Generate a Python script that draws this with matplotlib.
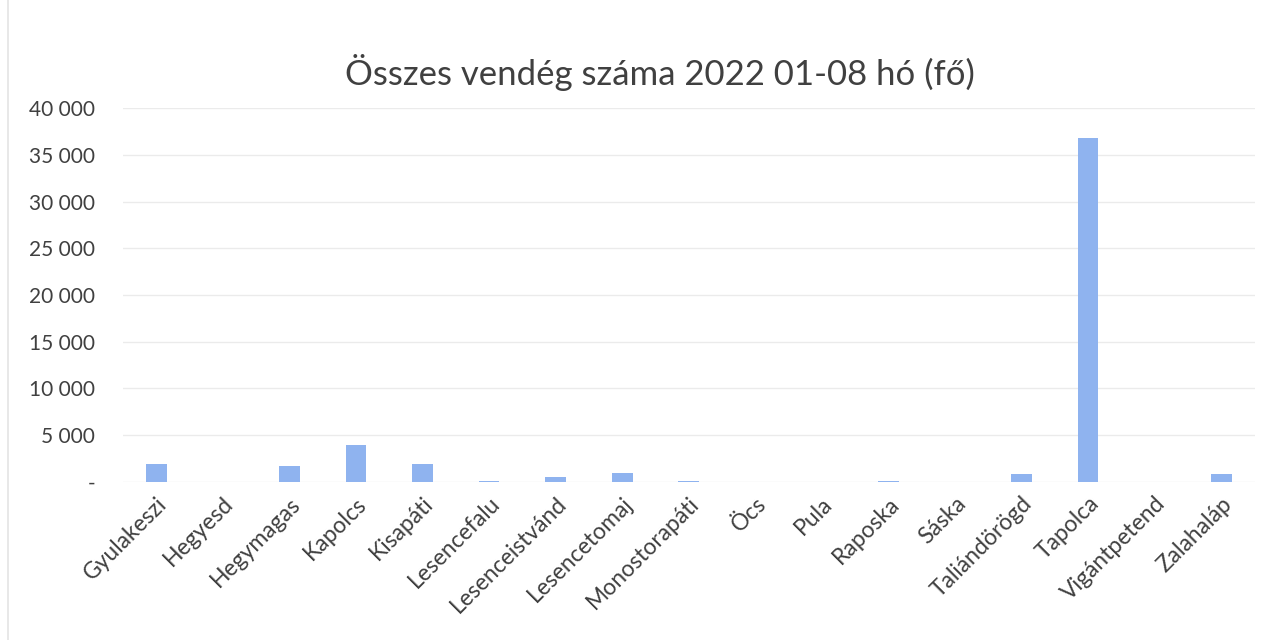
import matplotlib.pyplot as plt
from matplotlib.ticker import FuncFormatter

telepulesek = ["Gyulakeszi", "Hegyesd", "Hegymagas", "Kapolcs", "Kisapáti",
               "Lesencefalu", "Lesenceistvánd", "Lesencetomaj", "Monostorapáti",
               "Öcs", "Pula", "Raposka", "Sáska", "Taliándörögd", "Tapolca",
               "Vigántpetend", "Zalahaláp"]
vendegek = [1900, 0, 1700, 4000, 1900,
            100, 550, 1000, 150,
            0, 0, 100, 0, 900, 36800,
            0, 800]
y_ticks = [0, 5000, 10000, 15000, 20000, 25000, 30000, 35000, 40000]

plt.rcParams['font.family'] = ['Lato', 'DejaVu Sans']
text_color = '#404040'

fig = plt.figure(figsize=(12.88, 6.4), dpi=100)
ax = fig.add_axes((0.0955, 0.247, 0.8785, 0.584))

x = range(len(telepulesek))
ax.bar(x, vendegek, width=0.31, color='#8fb3ef', zorder=2)

ax.set_xlim(-0.5, len(telepulesek) - 0.5)
ax.set_ylim(0, 40000)
ax.set_yticks(y_ticks)


def ezres(v, pos):
    if v == 0:
        return '-'
    return f"{int(v):,}".replace(',', ' ')


ax.yaxis.set_major_formatter(FuncFormatter(ezres))
ax.set_xticks(list(x))
ax.set_xticklabels(telepulesek, rotation=45, ha='right', rotation_mode='anchor')
ax.tick_params(axis='both', length=0, colors=text_color)
ax.tick_params(axis='y', labelsize=15, pad=20)
ax.tick_params(axis='x', labelsize=16.5, pad=8)

ax.grid(axis='y', color='#ebebeb', linewidth=1, zorder=0)
for s in ax.spines.values():
    s.set_visible(False)

fig.text(0.512, 0.887, "Összes vendég száma 2022 01-08 hó (fő)", ha='center', va='center',
         fontsize=25, color=text_color)

# faint chart border at the left edge of the scan
fig.add_artist(plt.Line2D([0.006, 0.006], [0.0, 1.0], color='#e4e4e4', linewidth=1.2))

plt.savefig('out.png', dpi=100)
